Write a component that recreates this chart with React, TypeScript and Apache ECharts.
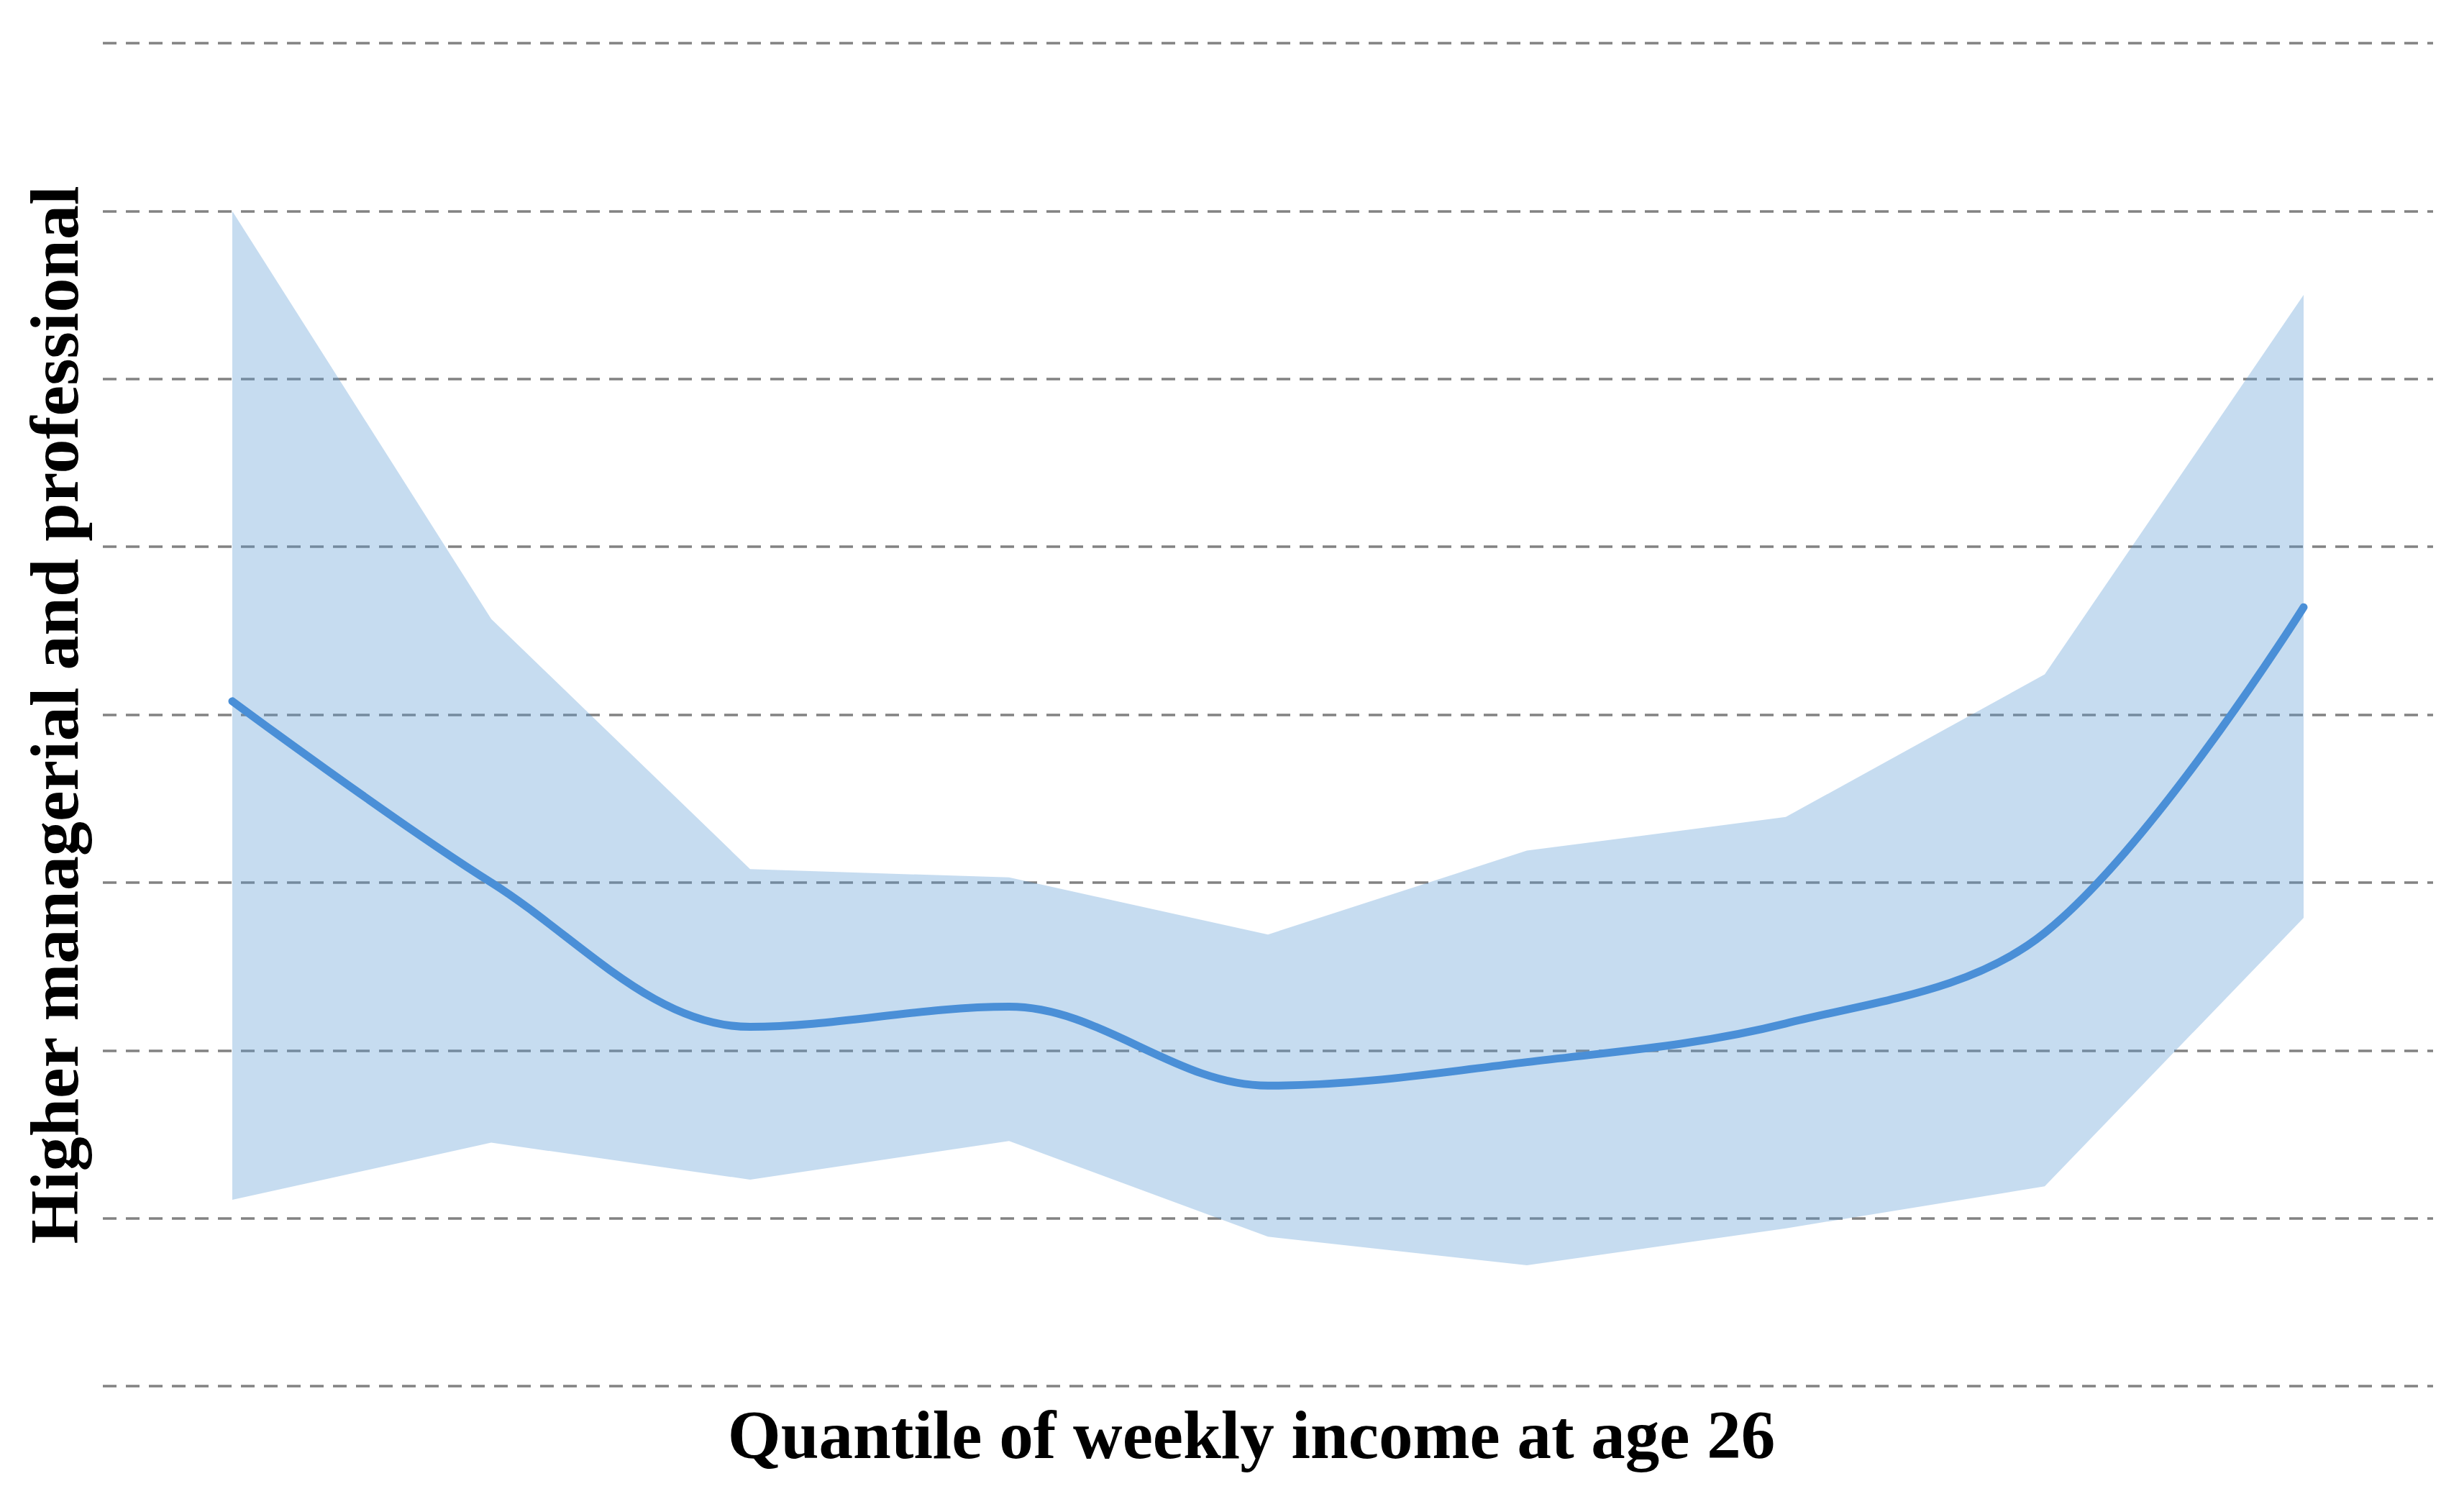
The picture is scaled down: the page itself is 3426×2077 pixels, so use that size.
import React, { useEffect, useRef } from "react";
import * as echarts from "echarts";

const quantiles = ["1", "2", "3", "4", "5", "6", "7", "8", "9"];
const meanValues = [4.08, 3.0, 2.14, 2.26, 1.79, 1.93, 2.16, 2.7, 4.64];
const upperValues = [7.0, 4.57, 3.08, 3.03, 2.69, 3.19, 3.39, 4.24, 6.5];
const lowerValues = [1.11, 1.45, 1.23, 1.46, 0.89, 0.72, 0.94, 1.19, 2.79];

const xTitle = "Quantile of weekly income at age 26";
const yTitle = "Higher managerial and professional";

export default function App() {
  const ref = useRef<HTMLDivElement>(null);
  useEffect(() => {
    if (!ref.current) return;
    const chart = echarts.init(ref.current, null, { renderer: "svg" });
    const bandWidth = upperValues.map((u, i) => +(u - lowerValues[i]).toFixed(3));
    const font = '"Liberation Serif", "Times New Roman", serif';
    chart.setOption({
      animation: false,
      backgroundColor: "#ffffff",
      grid: { left: 143, right: 43, top: 60, bottom: 150, containLabel: false },
      xAxis: {
        type: "category",
        data: quantiles,
        boundaryGap: true,
        axisLine: { show: false },
        axisTick: { show: false },
        axisLabel: { show: false },
        splitLine: { show: false },
      },
      yAxis: {
        type: "value",
        min: 0,
        max: 8,
        interval: 1,
        axisLine: { show: false },
        axisTick: { show: false },
        axisLabel: { show: false },
        splitLine: {
          show: true,
          lineStyle: { color: "#828282", width: 3.5, type: [19, 13] },
        },
      },
      series: [
        {
          name: "lower",
          type: "line",
          data: lowerValues,
          stack: "band",
          symbol: "none",
          lineStyle: { opacity: 0 },
          silent: true,
        },
        {
          name: "band",
          type: "line",
          data: bandWidth,
          stack: "band",
          symbol: "none",
          lineStyle: { opacity: 0 },
          areaStyle: { color: "rgba(91,155,213,0.35)", opacity: 1 },
          silent: true,
        },
        {
          name: "mean",
          type: "line",
          data: meanValues,
          smooth: 0.35,
          symbol: "none",
          lineStyle: { color: "#4a8fd7", width: 11, cap: "round" },
          z: 5,
        },
      ],
      graphic: [
        {
          type: "text",
          x: 1740,
          y: 1995,
          style: {
            text: xTitle,
            font: `bold 95px ${font}`,
            fill: "#000000",
            textAlign: "center",
            textVerticalAlign: "middle",
          },
        },
        {
          type: "text",
          x: 75,
          y: 994,
          rotation: Math.PI / 2,
          style: {
            text: yTitle,
            font: `bold 96px ${font}`,
            fill: "#000000",
            textAlign: "center",
            textVerticalAlign: "middle",
          },
        },
      ],
    });
    return () => chart.dispose();
  }, []);
  return (
    <div
      ref={ref}
      style={{ position: "absolute", left: 0, top: 0, width: 3426, height: 2077 }}
    />
  );
}
